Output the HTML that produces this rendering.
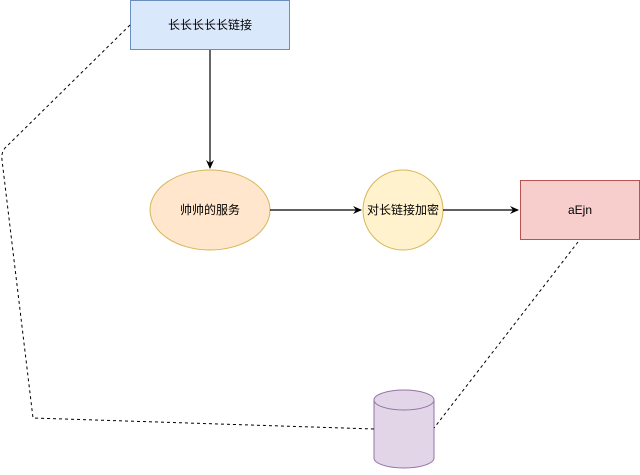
<!DOCTYPE html>
<html><head><meta charset="utf-8"><style>body{margin:0;background:#fff}</style></head><body>
<svg width="640" height="470" xmlns="http://www.w3.org/2000/svg" font-family="Liberation Sans, Noto Sans CJK SC, sans-serif" font-size="12">
<defs><marker id="a" markerWidth="10" markerHeight="10" refX="8" refY="5" orient="auto" markerUnits="userSpaceOnUse"><path d="M0,1 L9,5 L0,9 L3,5z" fill="#000"/></marker></defs>
<rect x="130.5" y="0.5" width="159" height="49" fill="#dae8fc" stroke="#6c8ebf"/>
<text x="210" y="29" text-anchor="middle">长长长长长链接</text>
<line x1="210" y1="50" x2="210" y2="168" stroke="#000" stroke-width="1.2" marker-end="url(#a)"/>
<ellipse cx="210" cy="210" rx="60" ry="40" fill="#ffe6cc" stroke="#d6b656"/>
<text x="210" y="214" text-anchor="middle">帅帅的服务</text>
<line x1="270" y1="210" x2="361" y2="210" stroke="#000" stroke-width="1.2" marker-end="url(#a)"/>
<circle cx="403" cy="210" r="40" fill="#fff2cc" stroke="#d6b656"/>
<text x="403" y="214" text-anchor="middle">对长链接加密</text>
<line x1="443" y1="210" x2="518" y2="210" stroke="#000" stroke-width="1.2" marker-end="url(#a)"/>
<rect x="520.5" y="180.5" width="119" height="59" fill="#f8cecc" stroke="#b85450"/>
<text x="580" y="214" text-anchor="middle">aEjn</text>
<path d="M374,400 v58 a30,10 0 0 0 60,0 v-58" fill="#e1d5e7" stroke="#9673a6"/>
<ellipse cx="404" cy="400" rx="30" ry="10" fill="#e1d5e7" stroke="#9673a6"/>
<path d="M130,25 L5,148 Q1,153 2,160 L33,418 L374,429" fill="none" stroke="#000" stroke-dasharray="3,3"/>
<line x1="578" y1="242" x2="434" y2="428" stroke="#000" stroke-dasharray="3,3"/>
</svg>
</body></html>
